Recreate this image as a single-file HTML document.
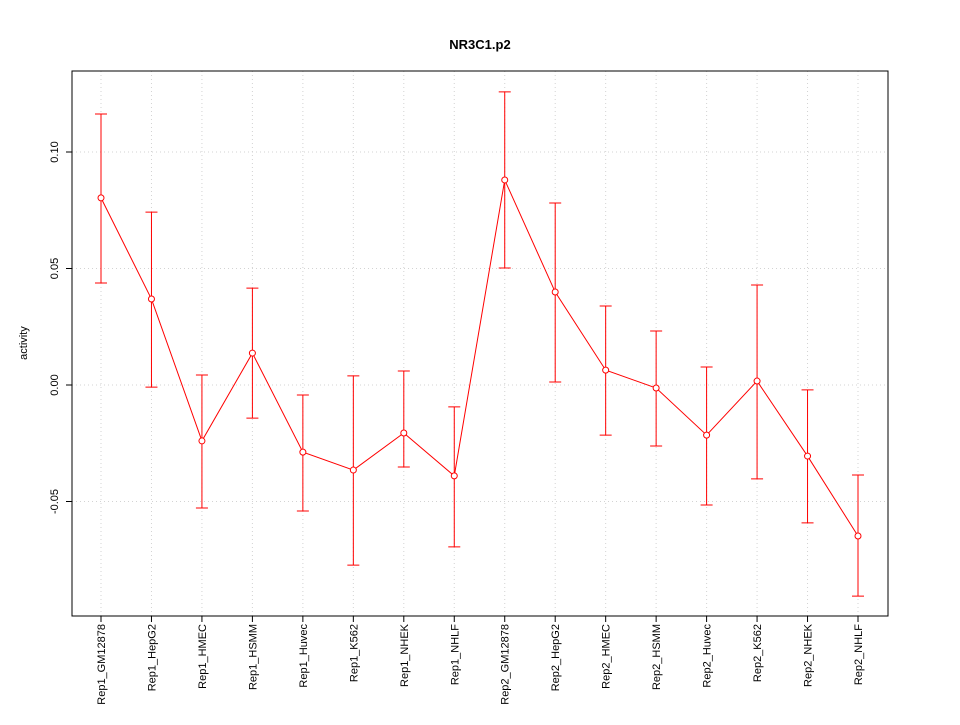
<!DOCTYPE html>
<html><head><meta charset="utf-8"><style>
body{margin:0;background:#fff;}
svg text{font-family:"Liberation Sans",sans-serif;}
</style></head><body>
<svg id="chart" width="960" height="720" xmlns="http://www.w3.org/2000/svg"></svg>
<script>
const categories=["Rep1_GM12878","Rep1_HepG2","Rep1_HMEC","Rep1_HSMM","Rep1_Huvec","Rep1_K562","Rep1_NHEK","Rep1_NHLF","Rep2_GM12878","Rep2_HepG2","Rep2_HMEC","Rep2_HSMM","Rep2_Huvec","Rep2_K562","Rep2_NHEK","Rep2_NHLF"];
const values=[0.0803,0.0369,-0.024,0.0137,-0.0288,-0.0365,-0.0206,-0.039,0.088,0.0399,0.0064,-0.0013,-0.0215,0.0017,-0.0305,-0.0648];
const upper=[0.1163,0.0742,0.0043,0.0416,-0.0043,0.0039,0.006,-0.0094,0.1258,0.0781,0.0339,0.0232,0.0077,0.0429,-0.0021,-0.0386];
const lower=[0.0438,-0.0009,-0.0528,-0.0142,-0.0541,-0.0773,-0.0352,-0.0695,0.0502,0.0013,-0.0215,-0.0262,-0.0515,-0.0403,-0.0592,-0.0906];
const yTicks=[-0.05,0,0.05,0.10];
const yTickLabels=["-0.05","0.00","0.05","0.10"];
const NS="http://www.w3.org/2000/svg";
const svg=document.getElementById('chart');
const L=72,R=888,T=71,B=616;
function xs(i){return 101+i*(858-101)/(categories.length-1);}
function ys(v){return 385-v*2330;}
function mk(tag,attrs,parent){const e=document.createElementNS(NS,tag);for(const k in attrs)e.setAttribute(k,attrs[k]);(parent||svg).appendChild(e);return e;}
// grid
categories.forEach((c,i)=>{const g=mk('line',{x1:xs(i),x2:xs(i),y1:T,y2:B,stroke:'#d3d3d3','stroke-dasharray':'1,3'});

});
yTicks.forEach(v=>{const g=mk('line',{x1:L,x2:R,y1:ys(v),y2:ys(v),stroke:'#d3d3d3','stroke-dasharray':'1,3'});

});
// frame
const fr=mk('rect',{x:L,y:T,width:R-L,height:B-T,fill:'none',stroke:'#000'});


// y axis ticks
yTicks.forEach((v,i)=>{mk('line',{x1:L-6,x2:L,y1:ys(v),y2:ys(v),stroke:'#000'});
const t=mk('text',{x:L-14,y:ys(v),'font-size':11,'text-anchor':'middle',transform:`rotate(-90 ${L-14} ${ys(v)})`});t.textContent=yTickLabels[i];

});
// x ticks
categories.forEach((c,i)=>{mk('line',{x1:xs(i),x2:xs(i),y1:B,y2:B+6,stroke:'#000'});
const t=mk('text',{x:xs(i)+4,y:624,'font-size':11,'text-anchor':'end',transform:`rotate(-90 ${xs(i)+4} 624)`});t.textContent=c;

});
// error bars
categories.forEach((c,i)=>{const x=xs(i);
const e=mk('path',{d:`M${x},${ys(upper[i])}V${ys(lower[i])}M${x-6},${ys(upper[i])}H${x+6}M${x-6},${ys(lower[i])}H${x+6}`,stroke:'#ff0000',fill:'none'});

});
// line
const ln=mk('polyline',{points:values.map((v,i)=>xs(i)+','+ys(v)).join(' '),fill:'none',stroke:'#ff0000'});


values.forEach((v,i)=>{const p=mk('circle',{cx:xs(i),cy:ys(v),r:3,fill:'#fff',stroke:'#ff0000'});

});
// titles
const tt=mk('text',{x:480,y:49,'font-size':13,'font-weight':'bold','text-anchor':'middle'});tt.textContent='NR3C1.p2';


const yt=mk('text',{x:27,y:343,'font-size':11,'text-anchor':'middle',transform:'rotate(-90 27 343)'});yt.textContent='activity';


</script>
</body></html>
